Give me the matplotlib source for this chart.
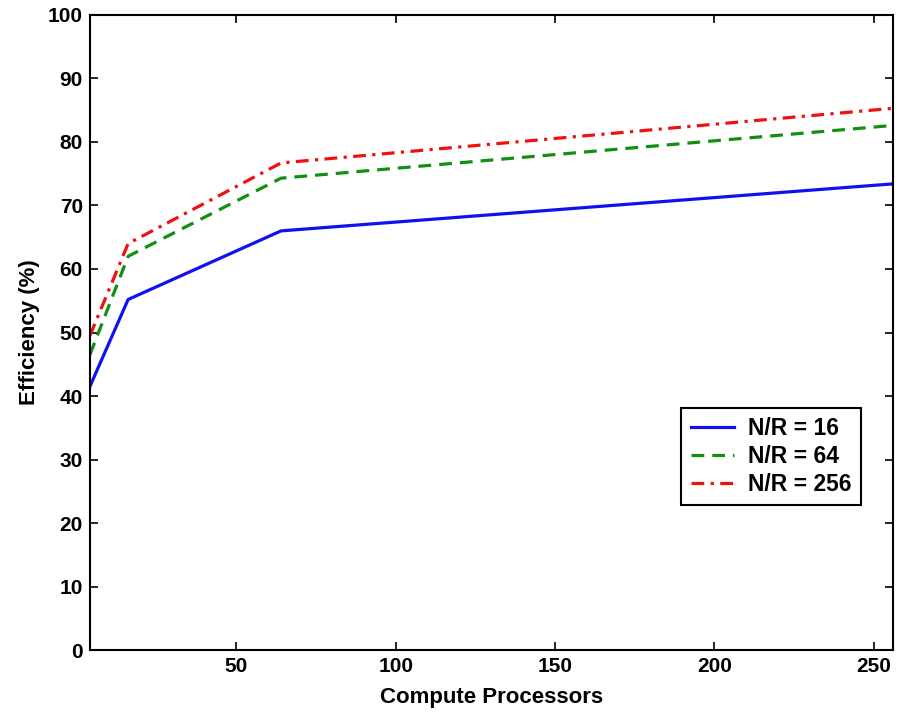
import matplotlib
matplotlib.use('Agg')
import matplotlib.pyplot as plt

# processors and efficiency values
procs = [4, 16, 64, 256]
eff_16 = [41.5, 55.2, 66.0, 73.4]
eff_64 = [46.5, 62.0, 74.3, 82.6]
eff_256 = [49.5, 64.0, 76.7, 85.3]
labels = ['N/R = 16', 'N/R = 64', 'N/R = 256']

plt.rcParams['font.family'] = ['Liberation Sans', 'DejaVu Sans']
plt.rcParams['font.weight'] = 'bold'

fig = plt.figure(figsize=(8.99, 7.12), dpi=100)
ax = fig.add_axes([0.1, 0.087, 0.893, 0.892])

ax.plot(procs, eff_16, color='#1010f0', linestyle='-', linewidth=2.3, label=labels[0])
ax.plot(procs, eff_64, color='#109010', linestyle=(0, (4, 2.5)), linewidth=2.3, label=labels[1])
ax.plot(procs, eff_256, color='#f01010', linestyle=(0, (4, 2, 1, 2)), linewidth=2.3, label=labels[2])

ax.set_xlim(4, 256)
ax.set_ylim(0, 100)
ax.set_xticks([50, 100, 150, 200, 250])
ax.set_yticks(range(0, 101, 10))
ax.tick_params(direction='in', top=True, right=True, labelsize=15, length=6, width=1.2, pad=5)
for s in ax.spines.values():
    s.set_linewidth(1.5)

ax.set_xlabel('Compute Processors', fontsize=16, fontweight='bold', labelpad=8)
ax.set_ylabel('Efficiency (%)', fontsize=16, fontweight='bold', labelpad=6)

leg = ax.legend(loc='lower right', bbox_to_anchor=(0.96, 0.228), fontsize=16.5,
                fancybox=False, edgecolor='black', framealpha=1,
                handlelength=1.9, handletextpad=0.6, borderpad=0.4,
                labelspacing=0.22, borderaxespad=0)
leg.get_frame().set_linewidth(1.5)

fig.savefig('out.png', dpi=100)
